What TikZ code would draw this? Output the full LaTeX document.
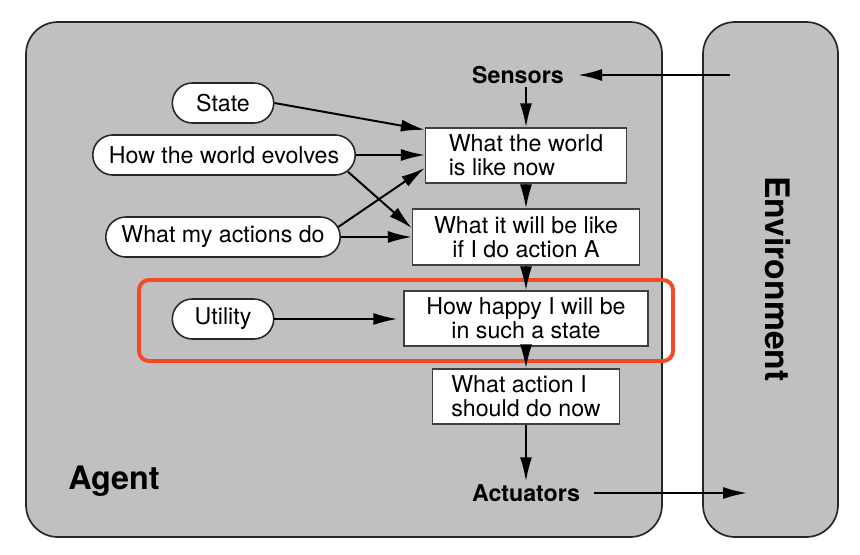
\documentclass[tikz,border=0pt]{standalone}
\usepackage{fontspec}
\setmainfont{TeX Gyre Heros}
\usetikzlibrary{arrows.meta,shapes.misc}

\definecolor{agentgray}{RGB}{192,192,192}
\definecolor{markred}{RGB}{242,74,38}

\begin{document}
\begin{tikzpicture}[x=0.025cm,y=-0.025cm,
   every node/.style={font=\fontsize{16.5}{17}\selectfont},
   panel/.style={draw=black!85,line width=1.2pt,fill=agentgray,rounded corners=0.8cm},
   model/.style={rounded rectangle,draw=black!85,line width=1.1pt,fill=white,minimum height=1cm,inner sep=2pt},
   stepbox/.style={rectangle,draw=black!75,line width=0.8pt,fill=white,minimum height=1.375cm,inner sep=2pt},
   portlabel/.style={font=\fontsize{16.5}{17}\selectfont\bfseries,inner xsep=0.35cm,inner ysep=2pt},
   flow/.style={-{Latex[length=0.6cm,width=0.3cm]},line width=1.4pt}]

   \useasboundingbox (0,0) rectangle (860,554);
   \fill[white] (0,0) rectangle (860,554);

   \draw[panel] (26,22) rectangle (662,537);
   \draw[panel] (703,22) rectangle (838,537);

   \node[font=\fontsize{23}{23}\selectfont\bfseries] (agent) at (114,481) {Agent};
   \node[rotate=-90,font=\fontsize{24}{24}\selectfont\bfseries] (env) at (778,279) {Environment};

   \draw[markred,line width=2.8pt,rounded corners=0.25cm] (139,280) rectangle (673,361);

   \node[portlabel] (sensors) at (518,75) {Sensors};
   \node[portlabel] (actuators) at (526,493) {Actuators};

   \node[model,minimum width=2.675cm] (state) at (223,103) {State};
   \node[model,minimum width=6.7cm] (hwe) at (224,155) {How the world evolves};
   \node[model,minimum width=6cm] (wmad) at (223,237) {What my actions do};
   \node[model,minimum width=2.675cm] (utility) at (223,319) {Utility};

   \node[stepbox,minimum width=5.025cm,align=left] (nowbox) at (526,155.5) {What the world\\is like now};
   \node[stepbox,minimum width=5.675cm,minimum height=1.4cm,align=center] (ifbox) at (526,237) {What it will be like\\if I do action A};
   \node[stepbox,minimum width=6.1cm,align=center] (happybox) at (526,318.5) {How happy I will be\\in such a state};
   \node[stepbox,minimum width=4.675cm,align=left] (actbox) at (526,396.5) {What action I\\should do now};

   \coordinate (envin) at (730,75);
   \coordinate (envout) at (747,493);

   \draw[flow] (envin) -- (sensors);
   \draw[flow] (sensors.south -| nowbox) -- (nowbox.north);
   \foreach \a/\b in {nowbox/ifbox,ifbox/happybox,happybox/actbox} {
      \draw[flow] (\a) -- (\b);
   }
   \draw[flow] (actbox.south) -- (actuators.north -| actbox.south);
   \draw[flow] (actuators) -- (envout);

   \draw[flow] (state.east) -- ([yshift=-0.06cm]nowbox.north west);
   \draw[flow] (hwe.east) -- (hwe.east -| nowbox.west);
   \draw[flow] ([xshift=-0.2cm,yshift=-0.42cm]hwe.east) -- ([yshift=0.22cm]ifbox.west);
   \draw[flow] ([xshift=-0.07cm,yshift=0.25cm]wmad.east) -- ([yshift=-0.31cm]nowbox.west);
   \draw[flow] (wmad.east) -- (wmad.east -| ifbox.west);
   \draw[flow,shorten >=0.15cm] (utility.east) -- (utility.east -| happybox.west);

\end{tikzpicture}
\end{document}
